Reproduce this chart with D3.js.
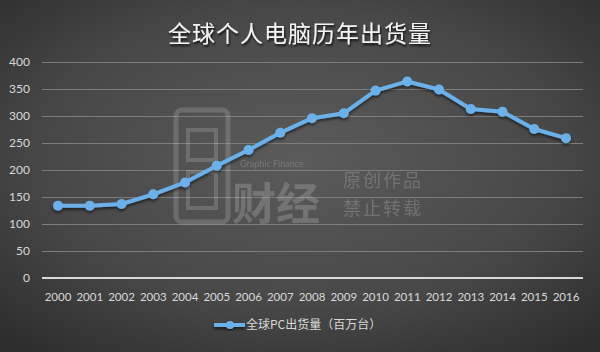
<!DOCTYPE html>
<html>
<head>
<meta charset="utf-8">
<script src="https://cdnjs.cloudflare.com/ajax/libs/d3/7.8.5/d3.min.js"></script>
<style>
  html, body { margin: 0; padding: 0; background: #3a3a3a; }
  svg { display: block; }
</style>
</head>
<body>
<div id="chart"></div>
<script>
// Data
const years = ["2000", "2001", "2002", "2003", "2004", "2005", "2006", "2007", "2008",
               "2009", "2010", "2011", "2012", "2013", "2014", "2015", "2016"];
const shipments = [134, 134, 137, 155, 177, 208, 237, 269, 296, 305, 347, 364, 349, 313, 308, 276, 259];
const yTicks = [0, 50, 100, 150, 200, 250, 300, 350, 400];
const chartTitle = "全球个人电脑历年出货量";
const seriesName = "全球PC出货量（百万台）";

// Dimensions
const width = 600, height = 352;
const plot = { left: 42, right: 583, top: 62, bottom: 278 };

const svg = d3.select("#chart")
    .append("svg")
    .attr("width", width)
    .attr("height", height);

const defs = svg.append("defs");

// Background gradient
const bg = defs.append("radialGradient")
    .attr("id", "bg")
    .attr("cx", "50%").attr("cy", "45%").attr("r", "70%");
bg.append("stop").attr("offset", "0%").attr("stop-color", "#5b5b5b");
bg.append("stop").attr("offset", "60%").attr("stop-color", "#484848");
bg.append("stop").attr("offset", "100%").attr("stop-color", "#2e2e2e");

const shadow = defs.append("filter").attr("id", "shadow")
    .attr("x", "-10%").attr("y", "-10%").attr("width", "120%").attr("height", "130%");
shadow.append("feDropShadow")
    .attr("dx", 0).attr("dy", 2).attr("stdDeviation", 1.5)
    .attr("flood-color", "#000").attr("flood-opacity", 0.6);

const titleShadow = defs.append("filter").attr("id", "tshadow");
titleShadow.append("feDropShadow")
    .attr("dx", 1).attr("dy", 2).attr("stdDeviation", 1.2)
    .attr("flood-color", "#000").attr("flood-opacity", 0.8);

svg.append("rect")
    .attr("width", width)
    .attr("height", height)
    .attr("fill", "url(#bg)");

// Scales
const x = d3.scalePoint().domain(years).range([58, 566]);
const y = d3.scaleLinear().domain([0, 400]).range([plot.bottom, plot.top]);

// Gridlines
svg.append("g")
    .selectAll("line")
    .data(yTicks.filter(d => d > 0))
    .enter()
    .append("line")
    .attr("x1", plot.left)
    .attr("x2", plot.right)
    .attr("y1", d => y(d) + 0.5)
    .attr("y2", d => y(d) + 0.5)
    .attr("stroke", "#7c7c7c")
    .attr("stroke-width", 1);

// Watermark
const wm = svg.append("g").attr("opacity", 0.22).attr("fill", "none").attr("stroke", "#cfcfcf");
wm.append("rect").attr("x", 176).attr("y", 110).attr("width", 52).attr("height", 112)
    .attr("rx", 6).attr("stroke-width", 5);
wm.append("rect").attr("x", 188).attr("y", 130).attr("width", 28).attr("height", 30)
    .attr("stroke-width", 4);
wm.append("rect").attr("x", 188).attr("y", 172).attr("width", 28).attr("height", 36)
    .attr("stroke-width", 4);
const wmText = svg.append("g").attr("opacity", 0.25).attr("fill", "#d0d0d0")
    .style("font-family", "'Noto Sans CJK SC', sans-serif");
wmText.append("text").attr("x", 232).attr("y", 220).attr("font-size", 44)
    .attr("font-weight", 700).text("财经");
wmText.append("text").attr("x", 240).attr("y", 167).attr("font-size", 9)
    .style("font-family", "Lato, sans-serif").text("Graphic Finance");
wmText.append("text").attr("x", 343).attr("y", 187).attr("font-size", 18)
    .attr("letter-spacing", 2).text("原创作品");
wmText.append("text").attr("x", 343).attr("y", 215).attr("font-size", 18)
    .attr("letter-spacing", 2).text("禁止转载");

// Zero axis line
svg.append("line")
    .attr("x1", plot.left)
    .attr("x2", plot.right)
    .attr("y1", y(0))
    .attr("y2", y(0))
    .attr("stroke", "#d9d9d9")
    .attr("stroke-width", 2);

// Y axis labels
svg.append("g")
    .selectAll("text")
    .data(yTicks)
    .enter()
    .append("text")
    .attr("x", 30)
    .attr("y", d => y(d))
    .attr("dy", "0.35em")
    .attr("text-anchor", "end")
    .attr("fill", "#d9d9d9")
    .style("font-family", "Lato, sans-serif")
    .style("font-size", "12px")
    .text(d => d);

// X axis labels
svg.append("g")
    .selectAll("text")
    .data(years)
    .enter()
    .append("text")
    .attr("x", d => x(d))
    .attr("y", 301)
    .attr("text-anchor", "middle")
    .attr("fill", "#d9d9d9")
    .style("font-family", "Lato, sans-serif")
    .style("font-size", "11.5px")
    .text(d => d);

// Line
const lineColor = "#6cb0ea";
const line = d3.line()
    .x((d, i) => x(years[i]))
    .y(d => y(d));

const series = svg.append("g").attr("filter", "url(#shadow)");
series.append("path")
    .datum(shipments)
    .attr("d", line)
    .attr("fill", "none")
    .attr("stroke", lineColor)
    .attr("stroke-width", 4)
    .attr("stroke-linejoin", "round");

series.selectAll("circle")
    .data(shipments)
    .enter()
    .append("circle")
    .attr("cx", (d, i) => x(years[i]))
    .attr("cy", d => y(d))
    .attr("r", 5)
    .attr("fill", lineColor);

// Title
svg.append("text")
    .attr("x", 300)
    .attr("y", 42)
    .attr("text-anchor", "middle")
    .attr("fill", "#f2f2f2")
    .attr("filter", "url(#tshadow)")
    .style("font-family", "'Noto Sans CJK SC', sans-serif")
    .style("font-size", "23px")
    .style("letter-spacing", "1px")
    .text(chartTitle);

// Legend
const legend = svg.append("g").attr("filter", "url(#shadow)");
legend.append("line")
    .attr("x1", 214).attr("x2", 245)
    .attr("y1", 325).attr("y2", 325)
    .attr("stroke", lineColor)
    .attr("stroke-width", 4);
legend.append("circle")
    .attr("cx", 230).attr("cy", 325).attr("r", 4)
    .attr("fill", lineColor);
svg.append("text")
    .attr("x", 246)
    .attr("y", 325)
    .attr("dy", "0.35em")
    .attr("fill", "#d9d9d9")
    .style("font-family", "'Noto Sans CJK SC', sans-serif")
    .style("font-size", "12px")
    .text(seriesName);
</script>
</body>
</html>
